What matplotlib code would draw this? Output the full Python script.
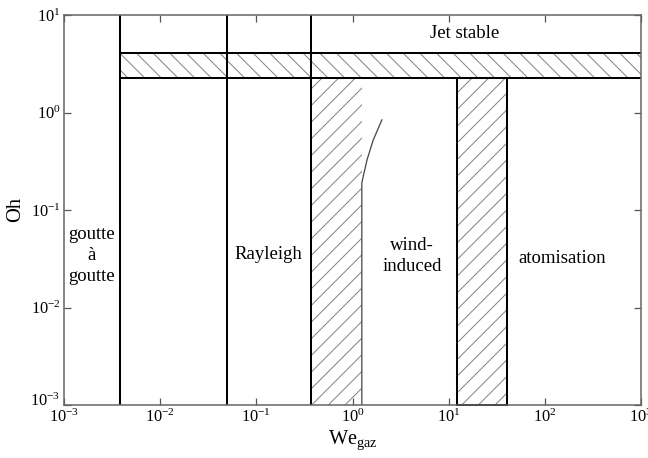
import matplotlib
matplotlib.use("Agg")
import matplotlib.pyplot as plt
import matplotlib.transforms as mtransforms
import numpy as np

# regime boundaries (We_gaz, Oh)
we_lines = [0.0038, 0.050, 0.37]       # full-height vertical boundaries
oh_band = [2.26, 4.07]                 # jet stable transition band
we_band1 = [0.37, 1.25]                # rayleigh -> wind-induced transition
we_band2 = [12.3, 40.0]                # wind-induced -> atomisation transition
curve_we = [1.25, 1.25, 1.33, 1.42, 1.64, 2.02]
curve_oh = [0.001, 0.19, 0.25, 0.33, 0.52, 0.84]

labels = ["Jet stable", "goutte\nà\ngoutte", "Rayleigh", "wind-\ninduced", "atomisation"]
label_we = [14.7, 0.00195, 0.132, 4.14, 150]
label_oh = [6.5, 0.034, 0.035, 0.034, 0.032]

plt.rcParams.update({'font.family': 'Liberation Serif',
                     'mathtext.fontset': 'custom',
                     'mathtext.rm': 'Liberation Serif',
                     'mathtext.it': 'Liberation Serif:italic',
                     'hatch.linewidth': 0.7,
                     'hatch.color': '#808080'})

fig = plt.figure(figsize=(6.48, 4.58), dpi=100)
ax = fig.add_axes([64 / 648, 1 - 405 / 458, 577 / 648, 390 / 458])
ax.set_xscale('log')
ax.set_yscale('log')
ax.set_xlim(1e-3, 1e3)
ax.set_ylim(1e-3, 1e1)

lw = 1.45
ymin, ymax = ax.get_ylim()
xmin, xmax = ax.get_xlim()

# hatched bands
ax.fill_between([we_lines[0], xmax], oh_band[0], oh_band[1], facecolor='none',
                edgecolor='#808080', linewidth=0, hatch='\\\\')
ax.fill_between(we_band1, ymin, oh_band[0], facecolor='none',
                edgecolor='#808080', linewidth=0, hatch='//')
ax.fill_between(we_band2, ymin, oh_band[0], facecolor='none',
                edgecolor='#808080', linewidth=0, hatch='//')

# boundary lines
for w in we_lines:
    ax.plot([w, w], [ymin, ymax], color='black', lw=lw)
for o in oh_band:
    ax.plot([we_lines[0], xmax], [o, o], color='black', lw=lw)
ax.plot([we_band2[0], we_band2[0], we_band2[1], we_band2[1]],
        [ymin, oh_band[0], oh_band[0], ymin], color='black', lw=lw)
ax.plot(we_band2, [ymin, ymin], color='black', lw=lw, clip_on=False)
ax.plot(curve_we, curve_oh, color='#444444', lw=0.9)

for t, x, y in zip(labels, label_we, label_oh):
    ax.text(x, y, t, ha='center', va='center', fontsize=13.5, linespacing=1.3)

ax.set_xticks([10.0 ** k for k in range(-3, 4)])
ax.set_yticks([10.0 ** k for k in range(-3, 2)])
ax.set_xticklabels([r'$10^{%d}$' % k for k in range(-3, 4)])
ax.set_yticklabels([r'$10^{%d}$' % k for k in range(-3, 2)])
ax.minorticks_off()
ax.tick_params(direction='in', length=5, width=0.9, color='#555555',
               top=True, right=True, labelsize=11.8, pad=2.5)
for s in ax.spines.values():
    s.set_color('#666666')
    s.set_linewidth(1.1)

# lift the bottom Oh label a little so it clears the first We label
lbl = ax.get_yticklabels()[0]
lbl.set_transform(lbl.get_transform() + mtransforms.ScaledTranslation(0, 4 / 72, fig.dpi_scale_trans))

ax.set_xlabel(r'We$_{\mathrm{gaz}}$', fontsize=14.7, labelpad=2)
ax.set_ylabel('Oh', fontsize=14.7, labelpad=4)

fig.savefig('out.png', dpi=100)
